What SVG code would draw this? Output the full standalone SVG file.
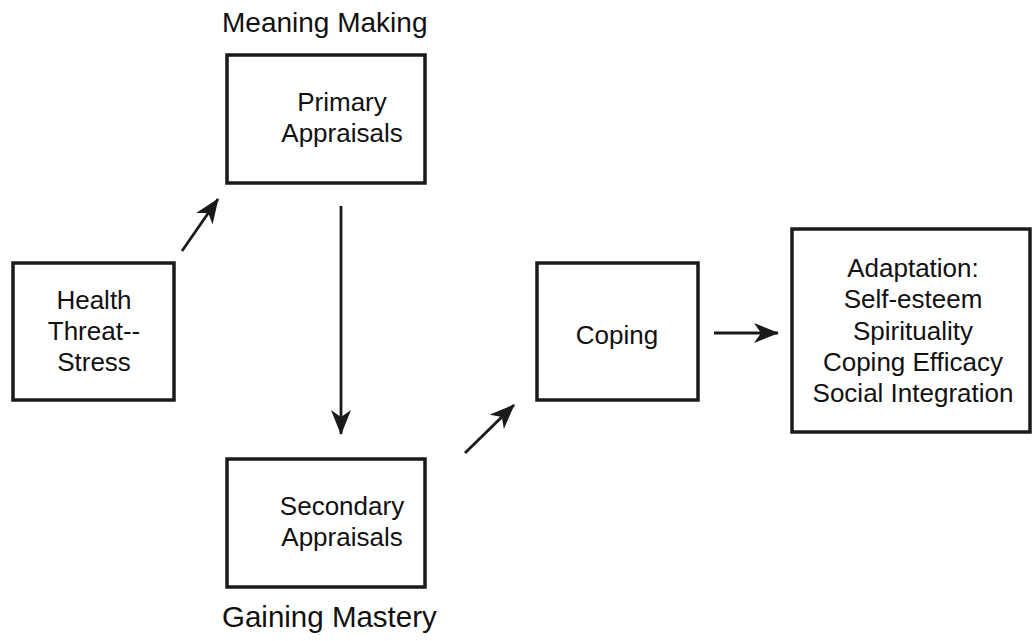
<svg xmlns="http://www.w3.org/2000/svg" width="1032" height="641" viewBox="0 0 1032 641">
<style>
.box{fill:#fff;stroke:#1a1a1a;stroke-width:3.5}
.t{font-family:"Liberation Sans",Arial,sans-serif;font-size:26px;fill:#111;text-anchor:middle}
.h{font-family:"Liberation Sans",Arial,sans-serif;font-size:28px;fill:#111}
.c{stroke:#1a1a1a;stroke-width:2.8;fill:none;marker-end:url(#ah)}
</style>
<defs>
<marker id="ah" markerUnits="userSpaceOnUse" markerWidth="26" markerHeight="22" viewBox="0 0 26 22" refX="24" refY="11" orient="auto">
<path d="M0,1 L25,11 L0,21 L7,11 z" fill="#1a1a1a"/>
</marker>
</defs>
<rect width="1032" height="641" fill="#fff"/>
<text class="h" x="222" y="32">Meaning Making</text>
<text class="h" x="222" y="627" style="font-size:29.5px">Gaining Mastery</text>
<g id="health">
<rect class="box" x="13" y="263" width="161" height="137"/>
<text class="t" x="94" y="309">Health</text>
<text class="t" x="94" y="340">Threat--</text>
<text class="t" x="94" y="371">Stress</text>
</g>
<g id="primary">
<rect class="box" x="227" y="55" width="198" height="128"/>
<text class="t" x="342" y="111">Primary</text>
<text class="t" x="342" y="142">Appraisals</text>
</g>
<g id="secondary">
<rect class="box" x="227" y="459" width="198" height="128"/>
<text class="t" x="342" y="515">Secondary</text>
<text class="t" x="342" y="546">Appraisals</text>
</g>
<g id="coping">
<rect class="box" x="537" y="263" width="161" height="137"/>
<text class="t" x="617" y="344">Coping</text>
</g>
<g id="adaptation">
<rect class="box" x="792" y="229" width="238" height="203"/>
<text class="t" x="913" y="277">Adaptation:</text>
<text class="t" x="913" y="308">Self-esteem</text>
<text class="t" x="913" y="340">Spirituality</text>
<text class="t" x="913" y="371">Coping Efficacy</text>
<text class="t" x="913" y="402">Social Integration</text>
</g>
<g id="connectors">
<line class="c" x1="182" y1="251" x2="218" y2="199"/>
<line class="c" x1="341" y1="206" x2="341" y2="434"/>
<line class="c" x1="465" y1="453" x2="514" y2="405"/>
<line class="c" x1="714" y1="333" x2="778" y2="333"/>
</g>
</svg>
